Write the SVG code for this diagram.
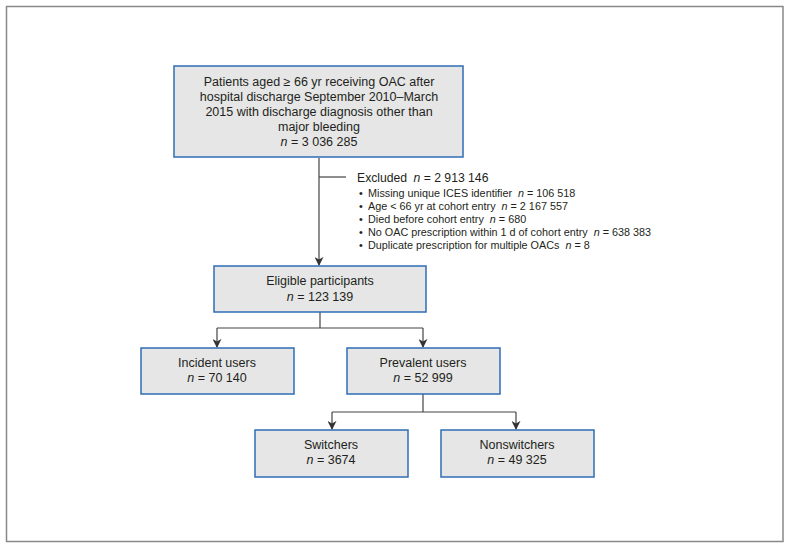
<svg xmlns="http://www.w3.org/2000/svg" width="791" height="549" viewBox="0 0 791 549">
<style>
.box{fill:#e6e6e6;stroke:#2f6db5;stroke-width:1.5}
.t{font-family:"Liberation Sans",Arial,sans-serif;font-size:12.5px;fill:#231f20;text-anchor:middle}
.s{font-family:"Liberation Sans",Arial,sans-serif;font-size:10.8px;fill:#231f20}
.e{font-family:"Liberation Sans",Arial,sans-serif;font-size:12.2px;fill:#231f20}
.c{fill:none;stroke:#444;stroke-width:1.2}
.i{font-style:italic}
</style>
<defs>
<marker id="ah" viewBox="0 0 10 10" refX="9" refY="5" markerWidth="9" markerHeight="9" markerUnits="userSpaceOnUse" orient="auto">
<path d="M0,0 L10,5 L0,10 L3,5 Z" fill="#333"/>
</marker>
</defs>
<rect x="0" y="0" width="791" height="549" fill="#fff"/>
<rect x="6.5" y="6.5" width="776.5" height="535" fill="none" stroke="#888" stroke-width="1.5"/>
<g id="connectors">
<path class="c" d="M319,158 V265" marker-end="url(#ah)"/>
<path class="c" d="M319,177 H346"/>
<path class="c" d="M320,312 V328"/>
<path class="c" d="M217,328 H423"/>
<path class="c" d="M217,328 V347" marker-end="url(#ah)"/>
<path class="c" d="M423,328 V347" marker-end="url(#ah)"/>
<path class="c" d="M423,394 V412"/>
<path class="c" d="M332,412 H516"/>
<path class="c" d="M332,412 V429" marker-end="url(#ah)"/>
<path class="c" d="M516,412 V429" marker-end="url(#ah)"/>
</g>
<g id="patients">
<rect class="box" x="174" y="66" width="289" height="91"/>
<text class="t" x="319" y="86">Patients aged ≥ 66 yr receiving OAC after</text>
<text class="t" x="319" y="101">hospital discharge September 2010–March</text>
<text class="t" x="319" y="116">2015 with discharge diagnosis other than</text>
<text class="t" x="319" y="131">major bleeding</text>
<text class="t" x="319" y="146"><tspan class="i">n</tspan> = 3 036 285</text>
</g>
<g id="excluded">
<text class="e" x="357" y="182">Excluded <tspan class="i" dx="3">n</tspan> = 2 913 146</text>
<text class="s" x="359" y="197">•</text><text class="s" x="368" y="197">Missing unique ICES identifier <tspan class="i" dx="3">n</tspan> = 106 518</text>
<text class="s" x="359" y="210">•</text><text class="s" x="368" y="210">Age &lt; 66 yr at cohort entry <tspan class="i" dx="3">n</tspan> = 2 167 557</text>
<text class="s" x="359" y="223">•</text><text class="s" x="368" y="223">Died before cohort entry <tspan class="i" dx="3">n</tspan> = 680</text>
<text class="s" x="359" y="236">•</text><text class="s" x="368" y="236">No OAC prescription within 1 d of cohort entry <tspan class="i" dx="3">n</tspan> = 638 383</text>
<text class="s" x="359" y="249">•</text><text class="s" x="368" y="249">Duplicate prescription for multiple OACs <tspan class="i" dx="3">n</tspan> = 8</text>
</g>
<g id="eligible">
<rect class="box" x="214" y="266" width="212" height="46"/>
<text class="t" x="320" y="285">Eligible participants</text>
<text class="t" x="320" y="301"><tspan class="i">n</tspan> = 123 139</text>
</g>
<g id="incident">
<rect class="box" x="141" y="348" width="153" height="46"/>
<text class="t" x="217" y="367">Incident users</text>
<text class="t" x="217" y="382"><tspan class="i">n</tspan> = 70 140</text>
</g>
<g id="prevalent">
<rect class="box" x="347" y="348" width="153" height="46"/>
<text class="t" x="423" y="367">Prevalent users</text>
<text class="t" x="423" y="382"><tspan class="i">n</tspan> = 52 999</text>
</g>
<g id="switchers">
<rect class="box" x="255" y="430" width="153" height="47"/>
<text class="t" x="331" y="449">Switchers</text>
<text class="t" x="331" y="464"><tspan class="i">n</tspan> = 3674</text>
</g>
<g id="nonswitchers">
<rect class="box" x="441" y="430" width="153" height="47"/>
<text class="t" x="517" y="449">Nonswitchers</text>
<text class="t" x="517" y="464"><tspan class="i">n</tspan> = 49 325</text>
</g>
</svg>
